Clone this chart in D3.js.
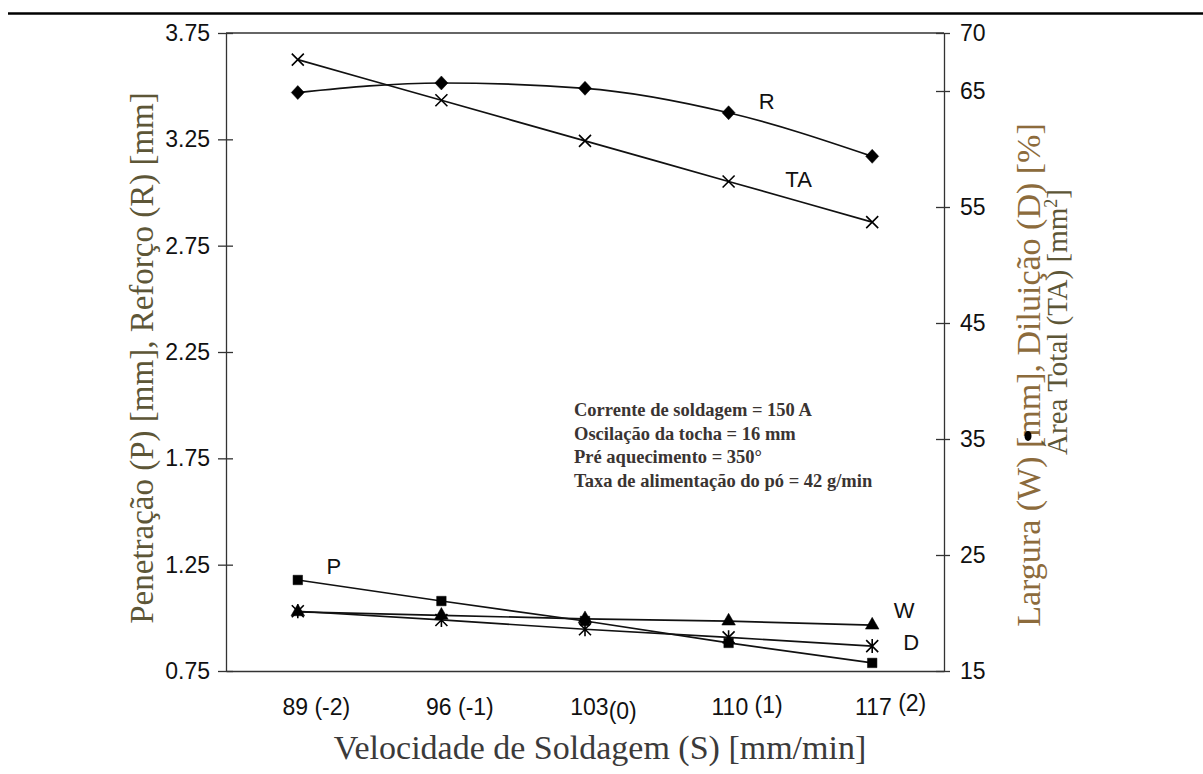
<!DOCTYPE html>
<html>
<head>
<meta charset="utf-8">
<script src="https://cdn.jsdelivr.net/npm/d3@7"></script>
<style>
  body { margin: 0; background: #fff; }
</style>
</head>
<body>
<div class="chart"></div>
<script>
// categories (speed, coded level)
var speedValues = ["89", "96", "103", "110", "117"];
var speedLevels = ["(-2)", "(-1)", "(0)", "(1)", "(2)"];

// left axis series [mm]
var reforco = [3.47, 3.515, 3.49, 3.375, 3.17];      // R
var penetracao = [1.178, 1.079, 0.985, 0.882, 0.788]; // P

// right axis series
var areaTotal = [67.7, 64.2, 60.7, 57.2, 53.7];      // TA [mm2]
var largura = [20.1, 19.8, 19.5, 19.3, 18.95];       // W [mm]
var diluicao = [20.15, 19.4, 18.6, 17.9, 17.15];     // D [%]

var leftTicks = [0.75, 1.25, 1.75, 2.25, 2.75, 3.25, 3.75];
var rightTicks = [15, 25, 35, 45, 55, 65, 70];

var notes = [
  "Corrente de soldagem = 150 A",
  "Oscilação da tocha = 16 mm",
  "Pré aquecimento = 350°",
  "Taxa de alimentação do pó = 42 g/min"
];

var svgWidth = 1203;
var svgHeight = 774;

var plot = { left: 226, right: 944, top: 33, bottom: 671 };

var svg = d3.select(".chart")
  .append("svg")
  .attr("width", svgWidth)
  .attr("height", svgHeight)
  .style("font-family", "'Liberation Sans', Arial, sans-serif");

svg.append("rect").attr("width", svgWidth).attr("height", svgHeight).attr("fill", "#fff");

// page rule at the top
svg.append("line")
  .attr("x1", 8).attr("x2", 1203)
  .attr("y1", 13.5).attr("y2", 13.5)
  .attr("stroke", "#000").attr("stroke-width", 2.5);

// scales
var x = d3.scalePoint()
  .domain(speedValues)
  .range([plot.left, plot.right])
  .padding(0.5);

var yLeft = d3.scaleLinear().domain([0.75, 3.75]).range([plot.bottom, plot.top]);
var yRight = d3.scaleLinear().domain([15, 70]).range([plot.bottom, plot.top]);

// top frame line
svg.append("line")
  .attr("x1", plot.left).attr("x2", plot.right)
  .attr("y1", plot.top).attr("y2", plot.top)
  .attr("stroke", "#333").attr("stroke-width", 1.3);

// left axis
var leftAxis = svg.append("g")
  .attr("transform", `translate(${plot.left},0)`)
  .call(d3.axisLeft(yLeft).tickValues(leftTicks).tickFormat(d3.format(".2f"))
    .tickSizeInner(8).tickSizeOuter(0).tickPadding(8));
leftAxis.selectAll(".tick line").attr("x1", 7);

// right axis
var rightAxis = svg.append("g")
  .attr("transform", `translate(${plot.right},0)`)
  .call(d3.axisRight(yRight).tickValues(rightTicks)
    .tickSizeInner(6).tickSizeOuter(0).tickPadding(10));
rightAxis.selectAll(".tick line").attr("x1", -8);

// bottom axis (speed + coded level, the level drawn a little off the baseline)
var levelShift = [0, 0, 4, -2, -4];
var bottomAxis = svg.append("g")
  .attr("transform", `translate(0,${plot.bottom})`)
  .call(d3.axisBottom(x).tickSizeInner(0).tickSizeOuter(0).tickPadding(28));
bottomAxis.selectAll(".tick text")
  .attr("dx", 18)
  .text(null)
  .each(function(d, i) {
    var t = d3.select(this);
    var gap = speedLevels[i] === "(0)" ? "" : " ";
    t.append("tspan").text(d + gap);
    t.append("tspan").attr("dy", levelShift[i]).text(speedLevels[i]);
  });

[leftAxis, rightAxis, bottomAxis].forEach(function(g) {
  g.selectAll("path, line").attr("stroke", "#333").attr("stroke-width", 1.3);
  g.selectAll("text")
    .attr("fill", "#111")
    .style("font-size", "23px")
    .style("font-family", "'Liberation Sans', Arial, sans-serif");
});

// series
function drawLine(values, scale, curve) {
  var line = d3.line()
    .x((d, i) => x(speedValues[i]))
    .y(d => scale(d))
    .curve(curve);
  svg.append("path")
    .datum(values)
    .attr("d", line)
    .attr("fill", "none")
    .attr("stroke", "#111")
    .attr("stroke-width", 1.7);
}

drawLine(reforco, yLeft, d3.curveMonotoneX);
drawLine(areaTotal, yRight, d3.curveMonotoneX);
drawLine(penetracao, yLeft, d3.curveLinear);
drawLine(largura, yRight, d3.curveLinear);
drawLine(diluicao, yRight, d3.curveLinear);

// markers
function drawMarks(values, scale, pathD, filled) {
  svg.append("g").selectAll("path")
    .data(values)
    .enter()
    .append("path")
    .attr("transform", (d, i) => `translate(${x(speedValues[i])},${scale(d)})`)
    .attr("d", pathD)
    .attr("fill", filled ? "#000" : "none")
    .attr("stroke", "#000")
    .attr("stroke-width", filled ? 0.5 : 1.6);
}

var diamond = "M0,-7L6.5,0L0,7L-6.5,0Z";
var cross = "M-6,-6L6,6M-6,6L6,-6";
var asterisk = "M-6,-6L6,6M-6,6L6,-6M0,-7L0,7";

drawMarks(reforco, yLeft, diamond, true);
drawMarks(areaTotal, yRight, cross, false);
drawMarks(penetracao, yLeft, d3.symbol().type(d3.symbolSquare).size(90)(), true);
drawMarks(largura, yRight, d3.symbol().type(d3.symbolTriangle).size(80)(), true);
drawMarks(diluicao, yRight, asterisk, false);

// series labels
var seriesLabels = svg.append("g")
  .style("font-size", "22px")
  .attr("fill", "#111")
  .attr("text-anchor", "middle");
seriesLabels.append("text").attr("x", x(speedValues[3]) + 38).attr("y", yLeft(reforco[3]) - 4).text("R");
seriesLabels.append("text").attr("x", x(speedValues[3]) + 70).attr("y", yRight(areaTotal[3]) + 6).text("TA");
seriesLabels.append("text").attr("x", x(speedValues[0]) + 36).attr("y", yLeft(penetracao[0]) - 6).text("P");
seriesLabels.append("text").attr("x", x(speedValues[4]) + 32).attr("y", yRight(largura[4]) - 7).text("W");
seriesLabels.append("text").attr("x", x(speedValues[4]) + 39).attr("y", yRight(diluicao[4]) + 4).text("D");

// condition notes
svg.append("g")
  .attr("transform", "translate(574,416)")
  .selectAll("text")
  .data(notes)
  .enter()
  .append("text")
  .attr("y", (d, i) => i * 23.5)
  .attr("fill", "#3a3432")
  .style("font-family", "'Liberation Serif', 'Times New Roman', serif")
  .style("font-weight", "bold")
  .style("font-size", "18.5px")
  .text(d => d);

// axis titles
var serif = "'Liberation Serif', 'Times New Roman', serif";

svg.append("text")
  .attr("x", 600).attr("y", 759)
  .attr("text-anchor", "middle")
  .attr("fill", "#3b3a3a")
  .style("font-family", serif)
  .style("font-size", "34px")
  .text("Velocidade de Soldagem (S) [mm/min]");

svg.append("text")
  .attr("transform", "translate(153,358) rotate(-90)")
  .attr("text-anchor", "middle")
  .attr("fill", "#5d5637")
  .style("font-family", serif)
  .style("font-size", "33px")
  .text("Penetração (P) [mm], Reforço (R) [mm]");

svg.append("text")
  .attr("transform", "translate(1040,375) rotate(-90)")
  .attr("text-anchor", "middle")
  .attr("fill", "#8c6b3c")
  .style("font-family", serif)
  .style("font-size", "34px")
  .text("Largura (W) [mm], Diluição (D) [%]");

var t2 = svg.append("text")
  .attr("transform", "translate(1067,322) rotate(-90)")
  .attr("text-anchor", "middle")
  .attr("fill", "#5d5637")
  .style("font-family", serif)
  .style("font-size", "29px");
t2.append("tspan").text("Área Total (TA) [mm");
t2.append("tspan").attr("dy", -10).style("font-size", "18px").text("2");
t2.append("tspan").attr("dy", 10).text("]");

// small ink blot from the scan
svg.append("ellipse")
  .attr("cx", 1028).attr("cy", 436)
  .attr("rx", 3.5).attr("ry", 5)
  .attr("fill", "#000");
</script>
</body>
</html>
